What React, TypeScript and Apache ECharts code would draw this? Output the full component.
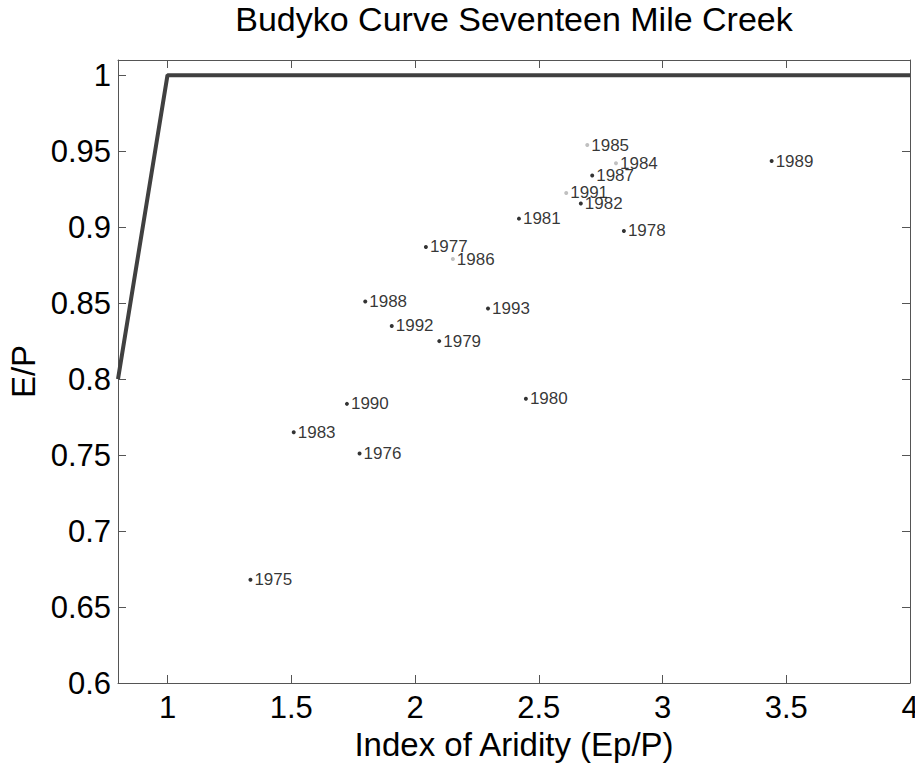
import React, { useEffect, useRef } from "react";
import * as echarts from "echarts";

const years = [1975, 1976, 1977, 1978, 1979, 1980, 1981, 1982, 1983, 1984, 1985, 1986, 1987, 1988, 1989, 1990, 1991, 1992, 1993];
const aridity = [1.335, 1.776, 2.044, 2.844, 2.098, 2.448, 2.42, 2.67, 1.51, 2.812, 2.696, 2.153, 2.716, 1.799, 3.441, 1.725, 2.611, 1.906, 2.295];
const evapRatio = [0.668, 0.751, 0.887, 0.8975, 0.825, 0.787, 0.9056, 0.9155, 0.765, 0.942, 0.954, 0.879, 0.934, 0.851, 0.9435, 0.7837, 0.9225, 0.835, 0.8465];
const greyYears = [1984, 1985, 1986, 1991];

const curveX = [0.8, 1, 4];
const curveY = [0.8, 1, 1];

const xTicks = [1, 1.5, 2, 2.5, 3, 3.5, 4];
const yTicks = [0.6, 0.65, 0.7, 0.75, 0.8, 0.85, 0.9, 0.95, 1];

const FONT = 'Arial, "Liberation Sans", Helvetica, sans-serif';
const AXIS_COLOR = "#555555";

export default function App() {
  const ref = useRef<HTMLDivElement>(null);
  useEffect(() => {
    if (!ref.current) return;
    const chart = echarts.init(ref.current, undefined, { renderer: "svg" });
    const axisLine = { show: true, lineStyle: { color: AXIS_COLOR, width: 1 } };
    const baseX = {
      type: "value",
      min: 0.8,
      max: 4,
      splitLine: { show: false },
      axisLine,
    };
    const baseY = {
      type: "value",
      min: 0.6,
      max: 1.01,
      splitLine: { show: false },
      axisLine,
    };
    const scatterData = years.map((y, i) => ({
      name: String(y),
      value: [aridity[i], evapRatio[i]],
      itemStyle: { color: greyYears.includes(y) ? "#b0b0b0" : "#000000" },
    }));
    chart.setOption({
      animation: false,
      backgroundColor: "#ffffff",
      grid: { left: 118, top: 60, right: 5, bottom: 80, containLabel: false, outerBoundsMode: "none" },
      graphic: [
        {
          type: "text",
          x: 514,
          y: 2,
          style: {
            text: "Budyko Curve Seventeen Mile Creek",
            fontSize: 34,
            fontFamily: FONT,
            fill: "#000",
            textAlign: "center",
            textVerticalAlign: "top",
          },
        },
      ],
      xAxis: [
        {
          ...baseX,
          position: "bottom",
          name: "Index of Aridity (Ep/P)",
          nameLocation: "middle",
          nameGap: 42,
          nameTextStyle: { fontSize: 33, fontFamily: FONT, color: "#000" },
          axisTick: { show: true, inside: true, length: 8, customValues: xTicks, lineStyle: { color: AXIS_COLOR } },
          axisLabel: { show: true, customValues: xTicks, fontSize: 31, fontFamily: FONT, color: "#000", margin: 9 },
        },
        {
          ...baseX,
          position: "top",
          axisTick: { show: true, inside: true, length: 8, customValues: xTicks, lineStyle: { color: AXIS_COLOR } },
          axisLabel: { show: false },
        },
      ],
      yAxis: [
        {
          ...baseY,
          position: "left",
          name: "E/P",
          nameLocation: "middle",
          nameGap: 76,
          nameRotate: 90,
          nameTextStyle: { fontSize: 33, fontFamily: FONT, color: "#000" },
          axisTick: { show: true, inside: true, length: 8, customValues: yTicks, lineStyle: { color: AXIS_COLOR } },
          axisLabel: { show: true, customValues: yTicks, fontSize: 31, fontFamily: FONT, color: "#000", margin: 7 },
        },
        {
          ...baseY,
          position: "right",
          axisTick: { show: true, inside: true, length: 8, customValues: yTicks, lineStyle: { color: AXIS_COLOR } },
          axisLabel: { show: false },
        },
      ],
      series: [
        {
          type: "line",
          xAxisIndex: 0,
          yAxisIndex: 0,
          data: curveX.map((x, i) => [x, curveY[i]]),
          showSymbol: false,
          symbol: "none",
          lineStyle: { color: "#404040", width: 4 },
          silent: true,
        },
        {
          type: "scatter",
          xAxisIndex: 0,
          yAxisIndex: 0,
          data: scatterData,
          symbol: "circle",
          symbolSize: 4,
          label: {
            show: true,
            position: "right",
            distance: 2,
            formatter: (p: any) => p.name,
            fontSize: 17,
            fontFamily: FONT,
            color: "#000",
          },
          labelLayout: { hideOverlap: false },
        },
      ],
    });
    return () => chart.dispose();
  }, []);
  return <div ref={ref} style={{ position: "fixed", left: 0, top: 0, width: 915, height: 763 }} />;
}
